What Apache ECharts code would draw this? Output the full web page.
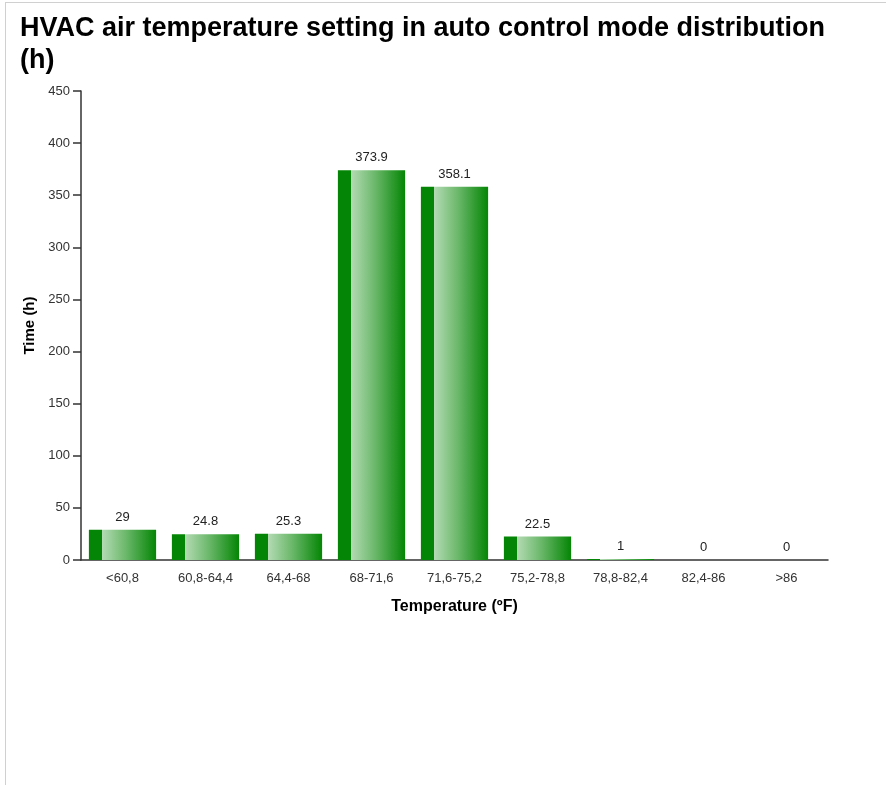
<!DOCTYPE html>
<html>
<head>
<meta charset="utf-8">
<script src="https://cdn.jsdelivr.net/npm/echarts@6/dist/echarts.min.js"></script>
<style>
html,body{margin:0;padding:0;background:#fff;}
#frame{position:absolute;left:5px;top:2px;width:881px;height:783px;border-left:1px solid #d0d0d0;border-top:1px solid #d0d0d0;box-sizing:border-box;}
#chart{position:absolute;left:0;top:0;width:886px;height:785px;}
</style>
</head>
<body>
<div id="frame"></div>
<div id="chart"></div>
<script>
const titleText = "HVAC air temperature setting in auto control mode distribution (h)";
const categories = ["<60,8","60,8-64,4","64,4-68","68-71,6","71,6-75,2","75,2-78,8","78,8-82,4","82,4-86",">86"];
const values = [29, 24.8, 25.3, 373.9, 358.1, 22.5, 1, 0, 0];
const yAxisName = "Time (h)";
const xAxisName = "Temperature (ºF)";

const chart = echarts.init(document.getElementById('chart'), null, {renderer:'canvas'});
const font = "Liberation Sans, Arial, sans-serif";
const barGradient = new echarts.graphic.LinearGradient(0,0,1,0,[
  {offset:0,color:'#058505'},
  {offset:0.19,color:'#058505'},
  {offset:0.2,color:'#b3dab3'},
  {offset:0.55,color:'#6bb86b'},
  {offset:1,color:'#048604'}
]);
chart.setOption({
  animation:false,
  backgroundColor:'transparent',
  title:{
    text:titleText,
    left:15, top:8,
    textStyle:{fontFamily:font,fontSize:27,fontWeight:'bold',color:'#000',width:830,overflow:'break',lineHeight:32}
  },
  grid:{left:81,right:58,top:91,bottom:225,containLabel:false},
  xAxis:{
    type:'category',
    data:categories,
    name:xAxisName,
    nameLocation:'middle',
    nameGap:39,
    nameTextStyle:{fontFamily:font,fontSize:16,fontWeight:'bold',color:'#000'},
    axisLine:{lineStyle:{color:'#333',width:1.5}},
    axisTick:{length:9,lineStyle:{color:'#333',width:1.5}},
    axisLabel:{fontFamily:font,fontSize:13,color:'#333',margin:12,interval:0}
  },
  yAxis:{
    type:'value',
    min:0,max:450,interval:50,
    name:yAxisName,
    nameLocation:'middle',
    nameGap:44,
    nameTextStyle:{fontFamily:font,fontSize:15,fontWeight:'bold',color:'#000'},
    axisLine:{show:true,lineStyle:{color:'#333',width:1.5}},
    axisTick:{show:true,length:8,lineStyle:{color:'#333',width:1.5}},
    axisLabel:{fontFamily:font,fontSize:13,color:'#333',margin:11},
    splitLine:{show:false}
  },
  series:[{
    type:'bar',
    data:values,
    barCategoryGap:'19%',
    itemStyle:{color:barGradient},
    label:{show:true,position:'top',distance:6,fontFamily:font,fontSize:13,color:'#222'}
  }]
});
</script>
</body>
</html>
